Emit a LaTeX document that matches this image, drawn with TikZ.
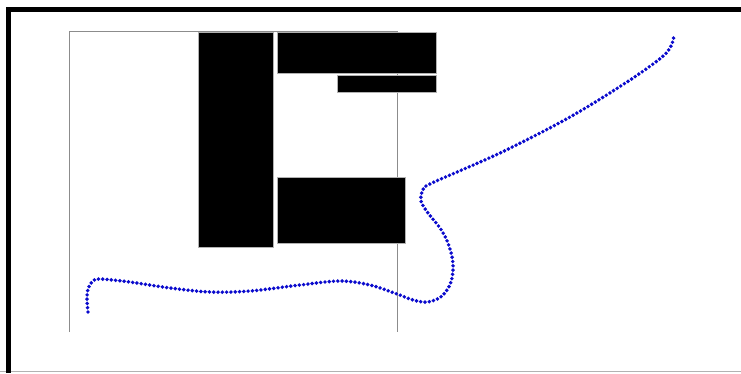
\documentclass[tikz,border=0pt]{standalone}
\begin{document}
\begin{tikzpicture}[x=1pt,y=-1pt,
  guide/.style={draw=gray!90,line width=1pt},
  block/.style={fill=black,draw=gray!60,line width=0.6pt},
  dotcurve/.style={draw={rgb,255:red,10;green,10;blue,205},line width=3.9pt,line cap=round,dash pattern=on 0pt off 4.3pt}]
\useasboundingbox (0,0) rectangle (741,373);
\fill[white] (0,0) rectangle (741,373);
% frame
\draw[gray!60,line width=0.8pt] (0,371.5) -- (741,371.5);
\fill[black] (6,7) rectangle (741,12);
\fill[black] (6,7) rectangle (11,373);
% gray guide lines
\draw[guide] (69,332) -- (69,31) -- (397,31) -- (397,332);
% black blocks
\path[block] (198,32) rectangle (273,247);
\path[block] (277,32) rectangle (436,73);
\path[block] (337,75) rectangle (436,92);
\path[block] (277,177) rectangle (405,243);
% dotted curve
\draw[dotcurve] plot[smooth,tension=0.55] coordinates {
 (88,312) (87,300) (88,289) (93,281) (100,279) (130,282) (170,288) (210,292)
 (250,291) (300,285) (340,281) (370,285) (397,294) (413,300) (428,302)
 (442,296) (451,282) (453,263) (448,243) (440,228) (428,213) (421,201)
 (423,190) (432,183) (500,153) (570,117) (630,80) (662,57)
 (671,46) (674,36)};
\end{tikzpicture}
\end{document}
